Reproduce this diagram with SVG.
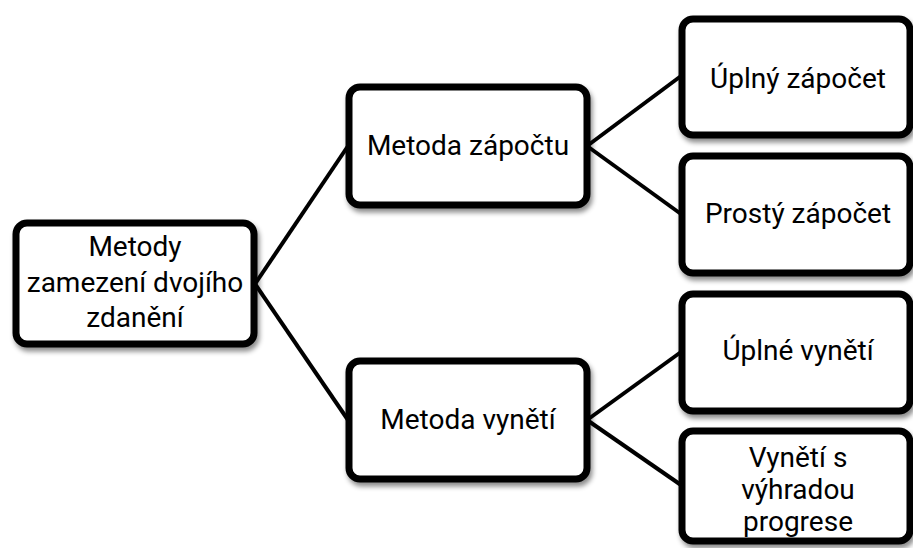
<svg xmlns="http://www.w3.org/2000/svg" width="913" height="548" viewBox="0 0 913 548">
<style>
.box{fill:#fff;stroke:#000;stroke-width:7;filter:url(#sh)}
.t{font-family:Roboto,"Open Sans",sans-serif;font-size:28px;fill:#000;text-anchor:middle}
.c{stroke:#000;stroke-width:4;fill:none}
</style>
<defs>
<filter id="sh" x="-10%" y="-10%" width="125%" height="130%">
<feDropShadow dx="2" dy="4" stdDeviation="2.5" flood-color="#000" flood-opacity="0.45"/>
</filter>
</defs>
<rect width="913" height="548" fill="#fff"/>
<g id="connectors">
<line class="c" x1="255" y1="284" x2="348" y2="146"/>
<line class="c" x1="255" y1="284" x2="348" y2="420"/>
<line class="c" x1="587" y1="146" x2="681" y2="76"/>
<line class="c" x1="587" y1="146" x2="681" y2="214"/>
<line class="c" x1="587" y1="420" x2="681" y2="352"/>
<line class="c" x1="587" y1="420" x2="681" y2="485"/>
</g>
<g id="root">
<rect class="box" x="16" y="223" width="238" height="121" rx="11"/>
<text class="t" x="135" y="256">Metody</text>
<text class="t" x="135" y="292">zamezení dvojího</text>
<text class="t" x="135" y="327">zdanění</text>
</g>
<g id="zapocet">
<rect class="box" x="349" y="87" width="238" height="118" rx="11"/>
<text class="t" x="468" y="155">Metoda zápočtu</text>
</g>
<g id="vyneti">
<rect class="box" x="349" y="361" width="238" height="118" rx="11"/>
<text class="t" x="468" y="429">Metoda vynětí</text>
</g>
<g id="uplny-zapocet">
<rect class="box" x="682" y="19" width="228" height="116" rx="11"/>
<text class="t" x="798" y="88">Úplný zápočet</text>
</g>
<g id="prosty-zapocet">
<rect class="box" x="682" y="156" width="228" height="117" rx="11"/>
<text class="t" x="798" y="223">Prostý zápočet</text>
</g>
<g id="uplne-vyneti">
<rect class="box" x="682" y="294" width="228" height="117" rx="11"/>
<text class="t" x="798" y="360">Úplné vynětí</text>
</g>
<g id="vyneti-s-vyhradou">
<rect class="box" x="682" y="431" width="228" height="110" rx="11"/>
<text class="t" x="798" y="467">Vynětí s</text>
<text class="t" x="798" y="499">výhradou</text>
<text class="t" x="798" y="531">progrese</text>
</g>
</svg>
